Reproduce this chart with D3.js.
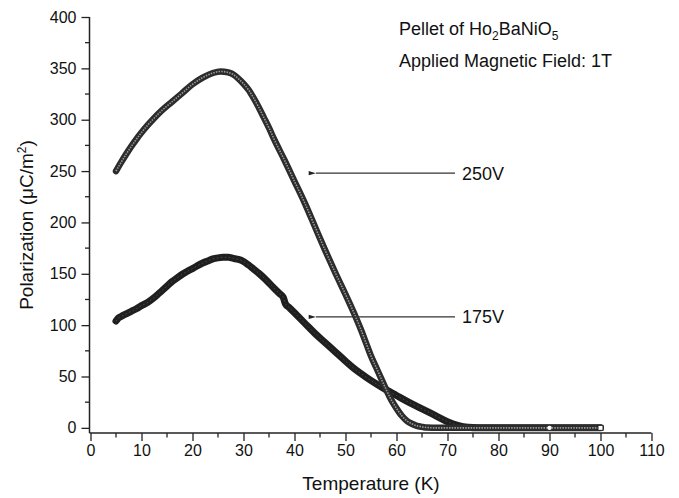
<!DOCTYPE html>
<html>
<head>
<meta charset="utf-8">
<script src="https://cdn.jsdelivr.net/npm/d3@7/dist/d3.min.js"></script>
<style>
  html, body { margin: 0; padding: 0; background: #fff; }
  svg { display: block; font-family: "Liberation Sans", Arial, sans-serif; }
</style>
</head>
<body>
<svg id="chart" width="679" height="498"></svg>
<script>
// ---- data ----
const temps250 = [5, 6, 7, 8, 9, 10, 11, 12, 14, 16, 18, 20, 22, 24, 25.5, 27, 28, 29, 30, 31, 32, 33, 34, 35, 36, 38, 40, 42, 44, 46, 48, 50, 52, 53, 54, 55, 56, 57, 58, 59, 60, 61, 62, 63, 64, 65, 66, 68, 70, 75, 80, 85, 90, 95, 100];
const pol250   = [250, 258.5, 266.5, 274, 281, 287.5, 293.5, 299, 309, 317.5, 326, 334.5, 341, 345.5, 347, 346, 344, 340, 335, 329, 321, 312, 302, 292, 281, 261, 240, 219, 196, 173, 151, 130, 108, 96, 83, 70, 59, 48, 37, 27, 19, 12, 7, 4, 2, 1, 0.3, 0, 0, 0, 0, 0, 0, 0, 0];

const temps175 = [5, 5.5, 6, 7, 8, 9, 10, 11, 12, 13, 14, 15, 16, 17, 18, 19, 20, 21, 22, 23, 24, 25, 26, 27, 28, 29, 30, 31, 32, 33, 34, 35, 36, 37, 37.8, 38.2, 39, 40, 42, 44, 46, 48, 50, 52, 54, 56, 58, 60, 62, 64, 66, 68, 70, 72, 74, 76, 80, 85, 90, 95, 100];
const pol175   = [104, 107, 108.5, 111, 113.5, 116, 119, 121.5, 125, 129, 133.5, 138, 142.5, 146, 149.5, 152.5, 155, 158, 160.5, 162.5, 164.5, 165.5, 166, 166, 165, 164, 162, 158.5, 154.5, 150.5, 146, 141, 136, 131, 127, 121, 117, 112, 102, 92, 83, 74, 65, 56.5, 49.5, 43, 37, 31.5, 26, 21, 16, 11, 6, 2.5, 0.5, 0, 0, 0, 0, 0, 0];

const xTicks = [0, 10, 20, 30, 40, 50, 60, 70, 80, 90, 100, 110];
const yTicks = [0, 50, 100, 150, 200, 250, 300, 350, 400];
const seriesLabels = ["250V", "175V"];
const labelArrowValues = [248, 108];   // y-values where the arrows point
const labelArrowTemps = [44, 44];      // x-value of arrow tips

// ---- layout ----
const svg = d3.select("#chart");
const x = d3.scaleLinear().domain([0, 110]).range([90.5, 651.5]);
const y = d3.scaleLinear().domain([-5, 400]).range([433, 17]);

const axisColor = "#222";

// x axis
const xAxis = d3.axisBottom(x).tickValues(xTicks).tickSize(8).tickPadding(4).tickFormat(d3.format("d"));
const gx = svg.append("g").attr("transform", "translate(0,433)").call(xAxis);
gx.select(".domain").attr("d", `M${x(0) - 1},0H${x(110)}`);
const xMinor = d3.range(5, 110, 10);
gx.selectAll(".minor").data(xMinor).enter().append("line")
  .attr("x1", d => x(d)).attr("x2", d => x(d)).attr("y1", 0).attr("y2", 4.5)
  .attr("stroke", axisColor).attr("stroke-width", 1.3);

// y axis
const yAxis = d3.axisLeft(y).tickValues(yTicks).tickSize(8).tickPadding(5);
const gy = svg.append("g").attr("transform", "translate(89.5,0)").call(yAxis);
gy.select(".domain").attr("d", `M0,${y(400)}V${y(-5)}`);
const yMinor = d3.range(25, 400, 50);
gy.selectAll(".minor").data(yMinor).enter().append("line")
  .attr("x1", 0).attr("x2", -4.5).attr("y1", d => y(d)).attr("y2", d => y(d))
  .attr("stroke", axisColor).attr("stroke-width", 1.3);

[gx, gy].forEach(g => {
  g.selectAll(".domain").attr("stroke", axisColor).attr("stroke-width", 1.5);
  g.selectAll(".tick line").attr("stroke", axisColor).attr("stroke-width", 1.3);
  g.selectAll(".tick text").attr("fill", "#111").style("font-size", "16px")
    .style("font-family", "'Liberation Sans', Arial, sans-serif");
});

// axis titles
svg.append("text").attr("x", (x(0) + x(110)) / 2).attr("y", 490)
  .attr("text-anchor", "middle").style("font-size", "19px").attr("fill", "#111")
  .text("Temperature (K)");

const yt = svg.append("text")
  .attr("transform", `translate(33,${(y(400) + y(-5)) / 2}) rotate(-90)`)
  .attr("text-anchor", "middle").style("font-size", "19px").attr("fill", "#111");
yt.append("tspan").text("Polarization (μC/m");
yt.append("tspan").attr("dy", -7).style("font-size", "12px").text("2");
yt.append("tspan").attr("dy", 7).text(")");

// ---- curves ----
const line = d3.line().x(d => x(d[0])).y(d => y(d[1])).curve(d3.curveMonotoneX);
const data250 = temps250.map((t, i) => [t, pol250[i]]);
const data175 = temps175.map((t, i) => [t, pol175[i]]);

const plot = svg.append("g");
// 175V: dense dark markers
plot.append("path").datum(data175).attr("d", line)
  .attr("fill", "none").attr("stroke", "#1f1f1f").attr("stroke-width", 7).attr("stroke-linecap", "round");
plot.append("path").datum(data175).attr("d", line)
  .attr("fill", "none").attr("stroke", "#4a4a4a").attr("stroke-width", 1).attr("stroke-dasharray", "1.5,2.5");

// 250V: open-circle band
plot.append("path").datum(data250).attr("d", line)
  .attr("fill", "none").attr("stroke", "#2c2c2c").attr("stroke-width", 6.5).attr("stroke-linecap", "round");
plot.append("path").datum(data250).attr("d", line)
  .attr("fill", "none").attr("stroke", "#9a9a9a").attr("stroke-width", 1.6).attr("stroke-dasharray", "1.5,1.2");

// end markers
plot.append("circle").attr("cx", x(90)).attr("cy", y(0)).attr("r", 2.2).attr("fill", "#fff");
plot.append("rect").attr("x", x(100) - 2.5).attr("y", y(0) - 2.5).attr("width", 5).attr("height", 5)
  .attr("fill", "#fff").attr("stroke", "#222").attr("stroke-width", 1);

// ---- annotations ----
const defs = svg.append("defs");
defs.append("marker").attr("id", "ah").attr("viewBox", "0 0 10 10").attr("refX", 0).attr("refY", 5)
  .attr("markerWidth", 9).attr("markerHeight", 6).attr("orient", "auto-start-reverse")
  .append("path").attr("d", "M10,2 L0,5 L10,8 Z").attr("fill", "#222");

seriesLabels.forEach((lab, i) => {
  const yy = y(labelArrowValues[i]);
  svg.append("line").attr("x1", 455).attr("x2", x(labelArrowTemps[i]) + 1).attr("y1", yy).attr("y2", yy)
    .attr("stroke", "#333").attr("stroke-width", 1.2).attr("marker-end", "url(#ah)");
  svg.append("text").attr("x", 462).attr("y", yy + 6.5).style("font-size", "18px").attr("fill", "#111").text(lab);
});

// title block
const t1 = svg.append("text").attr("x", 399).attr("y", 35).style("font-size", "18px").attr("fill", "#111");
t1.append("tspan").text("Pellet of Ho");
t1.append("tspan").attr("dy", 5).style("font-size", "12px").text("2");
t1.append("tspan").attr("dy", -5).text("BaNiO");
t1.append("tspan").attr("dy", 5).style("font-size", "12px").text("5");
svg.append("text").attr("x", 399).attr("y", 67).style("font-size", "18px").attr("fill", "#111")
  .text("Applied Magnetic Field: 1T");
</script>
</body>
</html>
